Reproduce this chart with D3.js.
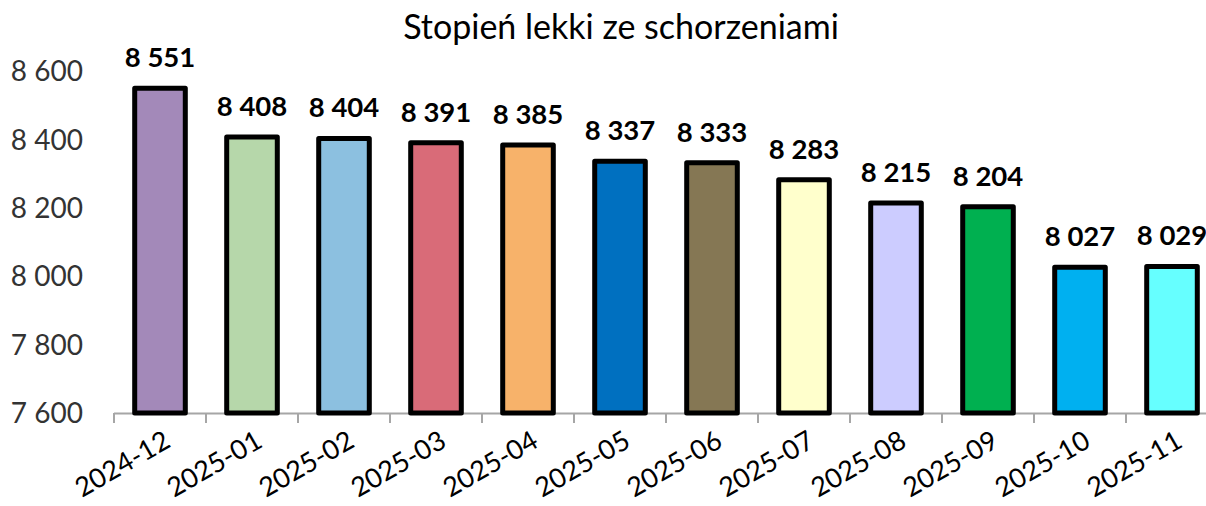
<!DOCTYPE html>
<html>
<head>
<meta charset="utf-8">
<script src="https://cdn.jsdelivr.net/npm/d3@7"></script>
<style>
  body { margin: 0; background: #fff; }
  text { font-family: Lato, "Open Sans", sans-serif; }
</style>
</head>
<body>
<div id="chart"></div>
<script>
let width = 1206, height = 506

let title = 'Stopień lekki ze schorzeniami'
let months = ['2024-12', '2025-01', '2025-02', '2025-03', '2025-04', '2025-05',
  '2025-06', '2025-07', '2025-08', '2025-09', '2025-10', '2025-11']
let values = [8551, 8408, 8404, 8391, 8385, 8337, 8333, 8283, 8215, 8204, 8027, 8029]
let barColors = ['#a389b9', '#b6d7aa', '#8cc0e0', '#d96b78', '#f7b26a', '#0070c0',
  '#857754', '#ffffcc', '#ccccff', '#00b050', '#00b0f0', '#66ffff']
let yTicks = [7600, 7800, 8000, 8200, 8400, 8600]

let fmt = v => d3.format(',')(v).replace(/,/g, ' ')

let svg = d3.select('#chart')
  .append('svg')
  .attr('width', width)
  .attr('height', height)

// band of 92px, plot runs off the right edge like the original
let x = d3.scaleBand()
  .domain(months)
  .range([114, 114 + 92 * months.length])
  .paddingInner(0.45)
  .paddingOuter(0.225)

let y = d3.scaleLinear()
  .domain([7600, 8600])
  .range([413, 71.5])

svg.append('text')
  .attr('x', 621)
  .attr('y', 39)
  .attr('text-anchor', 'middle')
  .attr('font-size', 34)
  .attr('fill', '#000')
  .text(title)

// y labels, no axis line
svg.append('g')
  .selectAll('text')
  .data(yTicks)
  .enter()
  .append('text')
  .attr('x', 83)
  .attr('y', d => y(d))
  .attr('dy', '0.35em')
  .attr('text-anchor', 'end')
  .attr('font-size', 28)
  .attr('fill', '#333')
  .text(fmt)

// x axis
let step = x.step()
let xAxis = svg.append('g')
xAxis.append('line')
  .attr('x1', 114).attr('x2', width)
  .attr('y1', 413.5).attr('y2', 413.5)
  .attr('stroke', '#a6a6a6')
  .attr('stroke-width', 2)
xAxis.selectAll('.tick')
  .data(d3.range(months.length + 1))
  .enter()
  .append('line')
  .attr('class', 'tick')
  .attr('x1', i => 114 + i * step)
  .attr('x2', i => 114 + i * step)
  .attr('y1', 413)
  .attr('y2', 423)
  .attr('stroke', '#a6a6a6')
  .attr('stroke-width', 2)

xAxis.selectAll('.lbl')
  .data(months)
  .enter()
  .append('text')
  .attr('class', 'lbl')
  .attr('text-anchor', 'end')
  .attr('font-size', 27)
  .attr('fill', '#000')
  .attr('transform', d => `translate(${x(d) + x.bandwidth() / 2 + 12}, 446) rotate(-30)`)
  .text(d => d)

// bars
svg.append('g')
  .selectAll('rect')
  .data(values)
  .enter()
  .append('rect')
  .attr('x', (d, i) => x(months[i]))
  .attr('y', d => y(d))
  .attr('width', x.bandwidth())
  .attr('height', d => y(7600) - y(d))
  .attr('fill', (d, i) => barColors[i])
  .attr('stroke', '#000')
  .attr('stroke-width', 5)
  .attr('stroke-linejoin', 'round')

svg.append('g')
  .selectAll('text')
  .data(values)
  .enter()
  .append('text')
  .attr('x', (d, i) => x(months[i]) + x.bandwidth() / 2)
  .attr('y', d => y(d) - 21)
  .attr('text-anchor', 'middle')
  .attr('font-size', 27.5)
  .attr('font-weight', 'bold')
  .attr('fill', '#000')
  .text(fmt)
</script>
</body>
</html>
